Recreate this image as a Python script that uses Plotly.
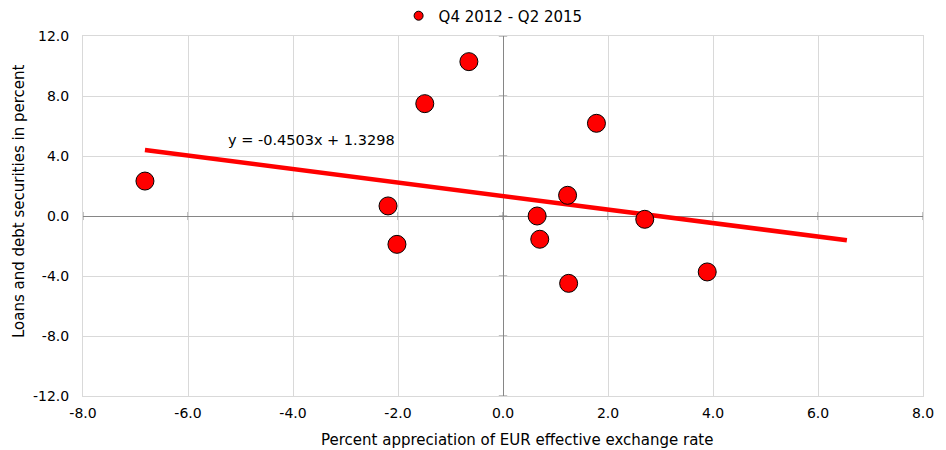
import plotly.graph_objects as go

# EUR appreciation (x) vs loans and debt securities (y), Q4 2012 - Q2 2015
appreciation = [-6.82, -2.19, -2.02, -1.49, -0.65, 0.65, 0.70, 1.23, 1.25, 1.78, 2.70, 3.89]
loans = [2.33, 0.67, -1.89, 7.49, 10.29, 0.0, -1.55, 1.38, -4.49, 6.18, -0.22, -3.73]

slope = -0.4503
intercept = 1.3298
trend_x = [-6.82, 6.55]
trend_y = [slope * v + intercept for v in trend_x]

x_ticks = [-8, -6, -4, -2, 0, 2, 4, 6, 8]
y_ticks = [-12, -8, -4, 0, 4, 8, 12]

font = "DejaVu Sans, Arial, sans-serif"

fig = go.Figure()
fig.add_trace(go.Scatter(
    x=trend_x, y=trend_y, mode="lines",
    line=dict(color="#ff0000", width=4.5),
    showlegend=False, hoverinfo="skip",
))
fig.add_trace(go.Scatter(
    x=appreciation, y=loans, mode="markers",
    name="Q4 2012 - Q2 2015", showlegend=False,
    marker=dict(color="#ff0000", size=18, line=dict(color="#000000", width=1)),
))
# legend entry with a smaller symbol, like the original
fig.add_trace(go.Scatter(
    x=[None], y=[None], mode="markers", name="Q4 2012 - Q2 2015",
    marker=dict(color="#ff0000", size=9, line=dict(color="#000000", width=1)),
))

fig.add_annotation(
    x=-3.65, y=5.1, text="y = -0.4503x + 1.3298", showarrow=False,
    font=dict(size=14.5),
)
fig.add_annotation(
    xref="paper", yref="paper", x=0.5167, y=-0.122, yanchor="middle",
    text="Percent appreciation of EUR effective exchange rate", showarrow=False,
    font=dict(size=15),
)
fig.add_annotation(
    xref="paper", yref="paper", x=-0.0762, y=0.5417, xanchor="center", yanchor="middle",
    textangle=-90, text="Loans and debt securities in percent", showarrow=False,
    font=dict(size=15),
)

# small cross ticks on the zero axes
shapes = []
for t in y_ticks:
    shapes.append(dict(type="line", xref="x", yref="y", x0=-0.08, x1=0.08, y0=t, y1=t,
                       line=dict(color="#868686", width=1), layer="below"))
for t in x_ticks:
    shapes.append(dict(type="line", xref="x", yref="y", x0=t, x1=t, y0=-0.27, y1=0.27,
                       line=dict(color="#868686", width=1), layer="below"))
fig.update_layout(shapes=shapes)

fig.update_xaxes(
    range=[-8, 8], tickvals=x_ticks, ticktext=[f"{t:.1f}" for t in x_ticks],
    showgrid=True, gridcolor="#d9d9d9", gridwidth=1,
    zeroline=True, zerolinecolor="#868686", zerolinewidth=1,
    showline=True, linecolor="#d9d9d9", mirror=True,
    ticks="", ticklabelstandoff=4, automargin=False,
    tickfont=dict(size=14),
)
fig.update_yaxes(
    range=[-12, 12], tickvals=y_ticks, ticktext=[f"{t:.1f}" for t in y_ticks],
    showgrid=True, gridcolor="#d9d9d9", gridwidth=1,
    zeroline=True, zerolinecolor="#868686", zerolinewidth=1,
    showline=True, linecolor="#d9d9d9", mirror=True,
    ticks="", ticklabelstandoff=10, automargin=False,
    tickfont=dict(size=14),
)

fig.update_layout(
    width=930, height=442,
    margin=dict(l=75, r=15, t=28, b=54, autoexpand=False),
    paper_bgcolor="white", plot_bgcolor="white",
    font=dict(family=font, size=14, color="#000000"),
    legend=dict(orientation="h", xref="container", x=0.42, xanchor="left",
                yref="container", y=0.982, yanchor="middle",
                font=dict(size=15), itemwidth=30),
    showlegend=True,
)

fig.write_html("out.html")
